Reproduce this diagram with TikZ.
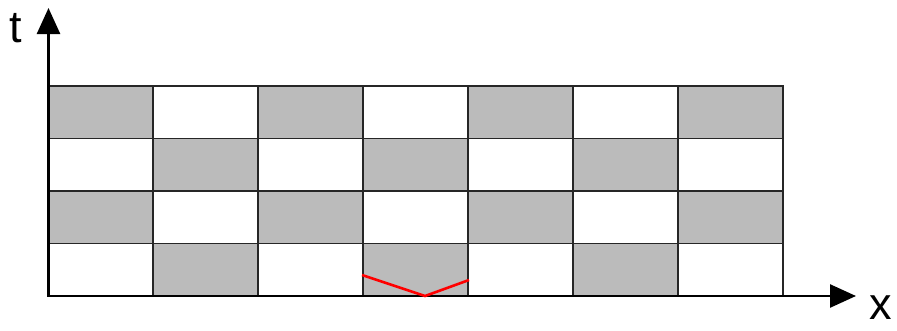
\documentclass[tikz,border=0pt]{standalone}
\usepackage{fontspec}
\setmainfont{Liberation Sans}
\usetikzlibrary{arrows.meta}
\definecolor{cellgray}{HTML}{BBBBBB}
\tikzset{
  cell/.style={draw=black!85, line width=1.1pt},
  axis/.style={line width=2.6pt, -{Triangle[length=26pt,width=23pt]}},
  axlabel/.style={font=\fontsize{45}{50}\selectfont, inner sep=0pt},
  path/.style={red, line width=2.6pt}
}
\begin{document}
\begin{tikzpicture}[x=1pt,y=-1pt]
\useasboundingbox (0,0) rectangle (897,330);
% cells
\foreach \r in {0,1,2,3}{
  \foreach \c in {0,...,6}{
    \pgfmathtruncatemacro{\g}{mod(\r+\c,2)}
    \ifnum\g=0
      \filldraw[cell, fill=cellgray] ({48+105*\c},{86+52.5*\r}) rectangle ({153+105*\c},{138.5+52.5*\r});
    \else
      \draw[cell] ({48+105*\c},{86+52.5*\r}) rectangle ({153+105*\c},{138.5+52.5*\r});
    \fi
  }
}
% axes
\coordinate (o) at (48.5,296);
\coordinate (ttip) at (48.5,8);
\coordinate (xtip) at (856,296);
\draw[axis] (o) -- (ttip);
\draw[axis] ([xshift=-1.3pt]o) -- (xtip);
\node[axlabel] (tl) at (16,28) {t};
\node[axlabel] (xl) at (881,308) {x};
% red path
\coordinate (p1) at (362,275);
\coordinate (p2) at (425,296);
\coordinate (p3) at (469,280);
\draw[path] (p1) -- (p2) -- (p3);
\end{tikzpicture}
\end{document}
